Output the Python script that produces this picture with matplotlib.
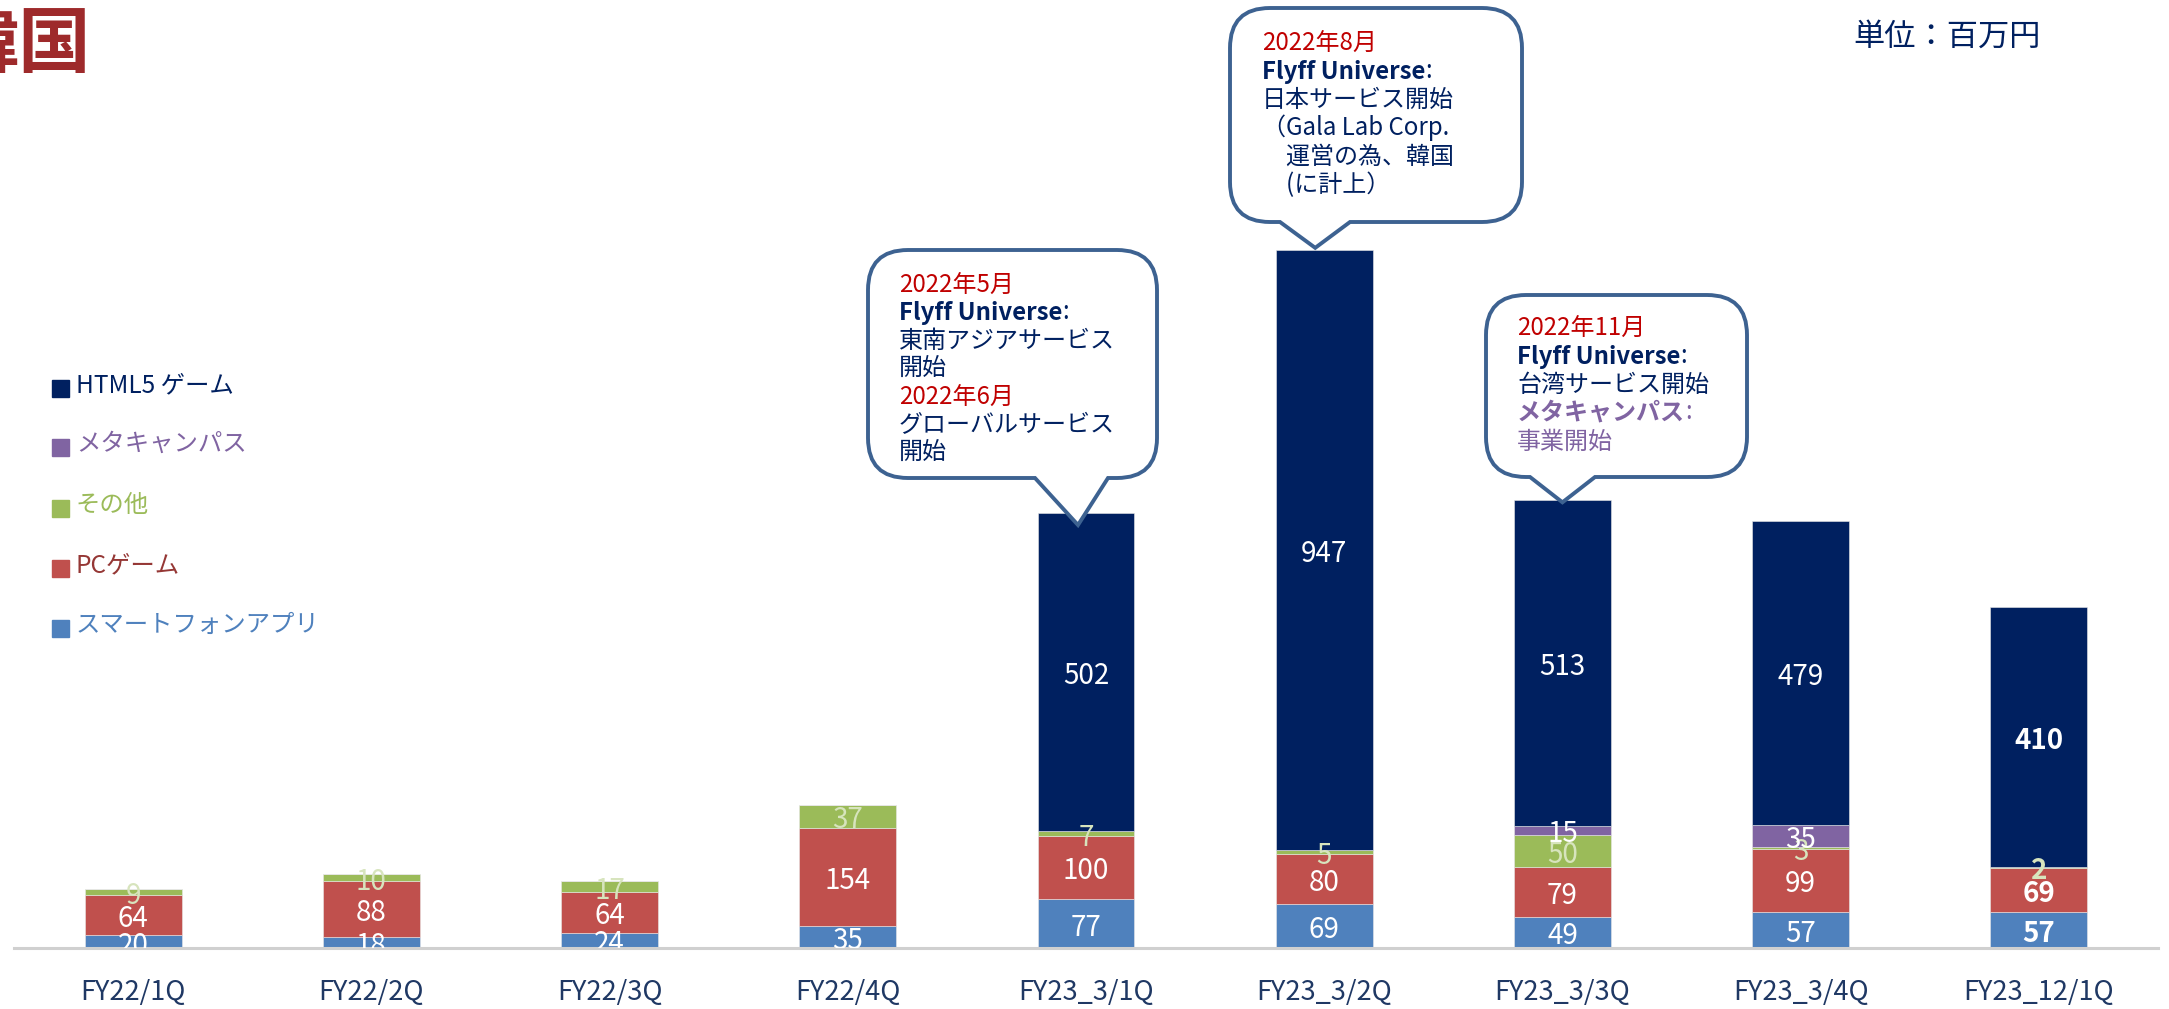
import numpy as np
import matplotlib
matplotlib.use('Agg')
import matplotlib.pyplot as plt
from matplotlib.path import Path
from matplotlib.patches import PathPatch, Rectangle
from matplotlib.transforms import Affine2D

plt.rcParams['font.family'] = ['Noto Sans CJK JP', 'DejaVu Sans']

# データ (単位: 百万円)
categories = ['FY22/1Q', 'FY22/2Q', 'FY22/3Q', 'FY22/4Q', 'FY23_3/1Q',
              'FY23_3/2Q', 'FY23_3/3Q', 'FY23_3/4Q', 'FY23_12/1Q']
smartphone = [20, 18, 24, 35, 77, 69, 49, 57, 57]
pc_game = [64, 88, 64, 154, 100, 80, 79, 99, 69]
other = [9, 10, 17, 37, 7, 5, 50, 3, 2]
meta_campus = [0, 0, 0, 0, 0, 0, 15, 35, 0]
html5 = [0, 0, 0, 0, 502, 947, 513, 479, 410]

series_names = ['スマートフォンアプリ', 'PCゲーム', 'その他', 'メタキャンパス', 'HTML5 ゲーム']
series_data = [smartphone, pc_game, other, meta_campus, html5]
bar_colors = ['#4F81BD', '#C0504D', '#9BBB59', '#8064A2', '#002060']
legend_text_colors = ['#4F81BD', '#953735', '#9BBB59', '#8064A2', '#002060']
label_colors = ['white', 'white', '#D7E4BD', 'white', 'white']

NAVY = '#002060'
RED = '#C00000'
PURPLE = '#8064A2'
EDGE = '#3D6291'

W, H = 2169, 1009
fig = plt.figure(figsize=(W / 100, H / 100), dpi=100)
# ピクセル座標 (左上原点) -> 図座標
px = Affine2D().scale(1 / W, -1 / H).translate(0, 1) + fig.transFigure

ax = fig.add_axes([14 / W, (H - 948) / H, (2158 - 14) / W, 948 / H])
x = np.arange(len(categories))
bottom = np.zeros(len(categories))
last = len(categories) - 1
for vals, col, lcol in zip(series_data, bar_colors, label_colors):
    vals = np.array(vals, dtype=float)
    ax.bar(x, vals, 0.407, bottom=bottom, color=col, edgecolor='#E8E8E8', linewidth=0.4, zorder=2)
    for i, v in enumerate(vals):
        if v <= 0:
            continue
        ax.annotate(f'{int(v)}', (x[i], bottom[i] + v / 2), xytext=(0, -4),
                    textcoords='offset pixels', ha='center', va='center',
                    fontsize=20, color=lcol, fontweight='bold' if i == last else 'normal',
                    annotation_clip=False, clip_on=True, zorder=3)
    bottom += vals
totals = bottom.copy()

ax.set_xlim(-0.5, len(categories) - 0.5)
ax.set_ylim(0, 1495)
ax.set_xticks(x)
ax.set_xticklabels(categories, fontsize=19.5, color='#1F3864')
ax.tick_params(axis='x', length=0, pad=22)
ax.set_yticks([])
for s in ['top', 'right', 'left']:
    ax.spines[s].set_visible(False)
ax.spines['bottom'].set_color('#D0D0D0')
ax.spines['bottom'].set_linewidth(2.2)
ax.patch.set_alpha(0)

# タイトル・単位
fig.text(91, 46, '韓国', transform=px, fontsize=52, fontweight='bold',
         color='#9E2A2B', ha='right', va='center')
fig.text(1853, 37, '単位：百万円', transform=px, fontsize=22.5, color=NAVY,
         ha='left', va='center')

# 凡例
legend_y = [628, 568, 508, 447, 388]
for name, col, tcol, yy in zip(series_names, bar_colors, legend_text_colors, legend_y):
    fig.add_artist(Rectangle((52, yy + 9), 17, -17, transform=px, color=col))
    fig.text(76, yy - 3, name, transform=px, fontsize=17.6, color=tcol, ha='left', va='center')


def bubble(l, t, r, b, bx1, bx2, bar_i, dx, dy, rad=40):
    # 吹き出しの先端はバーの上端に合わせる
    disp = ax.transData.transform((x[bar_i], totals[bar_i]))
    tipx = disp[0] + dx
    tipy = H - disp[1] + dy
    verts = [(l + rad, t), (r - rad, t), (r, t), (r, t + rad), (r, b - rad),
             (r, b), (r - rad, b), (bx2, b), (tipx, tipy), (bx1, b), (l + rad, b),
             (l, b), (l, b - rad), (l, t + rad), (l, t), (l + rad, t), (l + rad, t)]
    codes = [Path.MOVETO, Path.LINETO, Path.CURVE3, Path.CURVE3, Path.LINETO,
             Path.CURVE3, Path.CURVE3, Path.LINETO, Path.LINETO, Path.LINETO, Path.LINETO,
             Path.CURVE3, Path.CURVE3, Path.LINETO, Path.CURVE3, Path.CURVE3, Path.CLOSEPOLY]
    patch = PathPatch(Path(verts, codes), transform=px, facecolor='white',
                      edgecolor=EDGE, linewidth=2.8, zorder=5)
    fig.add_artist(patch)


def line(xx, yy, s, color=NAVY, bold=False, colon=False):
    t = fig.text(xx, yy, s, transform=px, fontsize=17.3, color=color, ha='left', va='center',
                 fontweight='bold' if bold else 'normal', zorder=6)
    if colon:
        fig.add_artist(plt.Annotation(':', xy=(1, 0), xycoords=t, ha='left', va='bottom',
                                      fontsize=17.3, color=color, zorder=6))
    return t


bubble(868, 250, 1157, 478, 1035, 1108, 4, -8, 12)
ys = [285, 313, 341, 369, 397, 425, 453]
line(899, ys[0], '2022年5月', RED)
line(899, ys[1], 'Flyff Universe', NAVY, bold=True, colon=True)
line(899, ys[2], '東南アジアサービス')
line(899, ys[3], '開始')
line(899, ys[4], '2022年6月', RED)
line(899, ys[5], 'グローバルサービス')
line(899, ys[6], '開始')

bubble(1230, 8, 1522, 222, 1280, 1350, 5, -9, -2)
ys = [43, 72, 100, 128, 157, 185]
line(1262, ys[0], '2022年8月', RED)
line(1262, ys[1], 'Flyff Universe', NAVY, bold=True, colon=True)
line(1262, ys[2], '日本サービス開始')
line(1262, ys[3], '（Gala Lab Corp.')
line(1262, ys[4], '\u3000運営の為、韓国')
line(1262, ys[5], '\u3000(に計上）')

bubble(1486, 295, 1747, 477, 1530, 1595, 6, 0, 2)
ys = [328, 357, 385, 413, 442]
line(1517, ys[0], '2022年11月', RED)
line(1517, ys[1], 'Flyff Universe', NAVY, bold=True, colon=True)
line(1517, ys[2], '台湾サービス開始')
line(1517, ys[3], 'メタキャンパス', PURPLE, bold=True, colon=True)
line(1517, ys[4], '事業開始', PURPLE)

fig.savefig('out.png', dpi=100)
